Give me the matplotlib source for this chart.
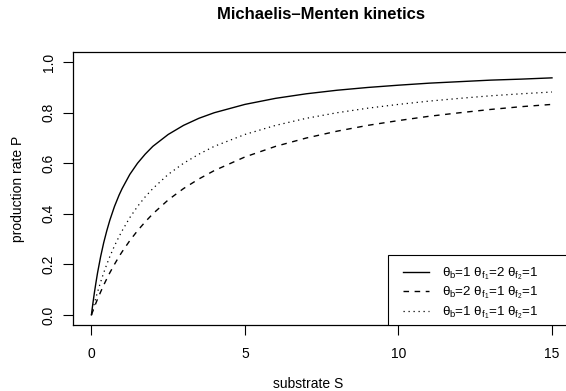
import matplotlib
matplotlib.use('Agg')
import matplotlib.pyplot as plt
from matplotlib.patches import Rectangle

plt.rcParams['font.family'] = ['Liberation Sans', 'DejaVu Sans']
plt.rcParams['mathtext.fontset'] = 'custom'
plt.rcParams['mathtext.rm'] = 'Liberation Sans'
plt.rcParams['mathtext.it'] = 'Liberation Sans'

# substrate values read along the x axis
substrate = [0, 0.02, 0.05, 0.1, 0.15, 0.2, 0.3, 0.4, 0.5, 0.6, 0.75, 0.9, 1, 1.25, 1.5, 1.75, 2,
             2.5, 3, 3.5, 4, 5, 6, 7, 8, 9, 10, 11, 12, 13, 14, 15]

# production rate for each curve
p_solid = [0, 0.020, 0.048, 0.091, 0.130, 0.167, 0.231, 0.286, 0.333, 0.375, 0.429, 0.474, 0.5,
           0.556, 0.6, 0.636, 0.667, 0.714, 0.75, 0.778, 0.8, 0.833, 0.857, 0.875, 0.889, 0.9,
           0.909, 0.917, 0.923, 0.929, 0.933, 0.938]
p_dashed = [0, 0.007, 0.016, 0.032, 0.048, 0.063, 0.091, 0.118, 0.143, 0.167, 0.2, 0.231, 0.25,
            0.294, 0.333, 0.368, 0.4, 0.455, 0.5, 0.538, 0.571, 0.625, 0.667, 0.7, 0.727, 0.75,
            0.769, 0.786, 0.8, 0.813, 0.824, 0.833]
p_dotted = [0, 0.010, 0.024, 0.048, 0.070, 0.091, 0.130, 0.167, 0.2, 0.231, 0.273, 0.310, 0.333,
            0.385, 0.429, 0.467, 0.5, 0.556, 0.6, 0.636, 0.667, 0.714, 0.75, 0.778, 0.8, 0.818,
            0.833, 0.846, 0.857, 0.867, 0.875, 0.882]

labels = [r'$\theta_b$=1 $\theta_{f_1}$=2 $\theta_{f_2}$=1',
          r'$\theta_b$=2 $\theta_{f_1}$=1 $\theta_{f_2}$=1',
          r'$\theta_b$=1 $\theta_{f_1}$=1 $\theta_{f_2}$=1']
x_ticks = [0, 5, 10, 15]
y_ticks = [0.0, 0.2, 0.4, 0.6, 0.8, 1.0]

fig = plt.figure(figsize=(5.66, 3.91), dpi=100)
ax = fig.add_axes([0.129, 0.1688, 0.8788, 0.698])

ax.plot(substrate, p_solid, color='black', lw=1.0, linestyle='-', label=labels[0])
ax.plot(substrate, p_dashed, color='black', lw=1.0, linestyle=(0, (4, 4)), label=labels[1])
ax.plot(substrate, p_dotted, color='black', lw=0.9, linestyle=(0, (1, 3)), label=labels[2])

ax.set_xlim(-0.6, 15.6)
ax.set_ylim(-0.04, 1.04)
ax.set_xticks(x_ticks)
ax.set_xticklabels([str(t) for t in x_ticks], fontsize=10)
ax.set_yticks(y_ticks)
ax.set_yticklabels(['%.1f' % t for t in y_ticks], fontsize=10, rotation=90, va='center')
ax.tick_params(length=7, width=0.8)
ax.tick_params(axis='x', pad=9)
ax.tick_params(axis='y', pad=5.5)
for s in ax.spines.values():
    s.set_linewidth(0.9)

ax.set_xlabel('substrate S', fontsize=10, va='bottom')
ax.xaxis.set_label_coords(0.4725, -0.2418)
ax.set_ylabel('production rate P', fontsize=10, va='center')
ax.yaxis.set_label_coords(-0.111, 0.5)
fig.text(0.567, 0.962, 'Michaelis\u2013Menten kinetics', ha='center', va='center',
         fontsize=12, fontweight='bold')

# legend box reaching the right edge of the plot region, as in R
ax.add_patch(Rectangle((0.633, 0.0), 0.4, 0.256, transform=ax.transAxes, facecolor='white',
                       edgecolor='black', lw=0.8, zorder=4))
leg = ax.legend(loc='upper left', bbox_to_anchor=(0.6635, 0.219), borderaxespad=0,
                borderpad=0, fontsize=9.6, handlelength=1.95, handletextpad=0.95,
                labelspacing=0.22, frameon=False)
leg.set_zorder(5)

fig.savefig('out.png', dpi=100)
